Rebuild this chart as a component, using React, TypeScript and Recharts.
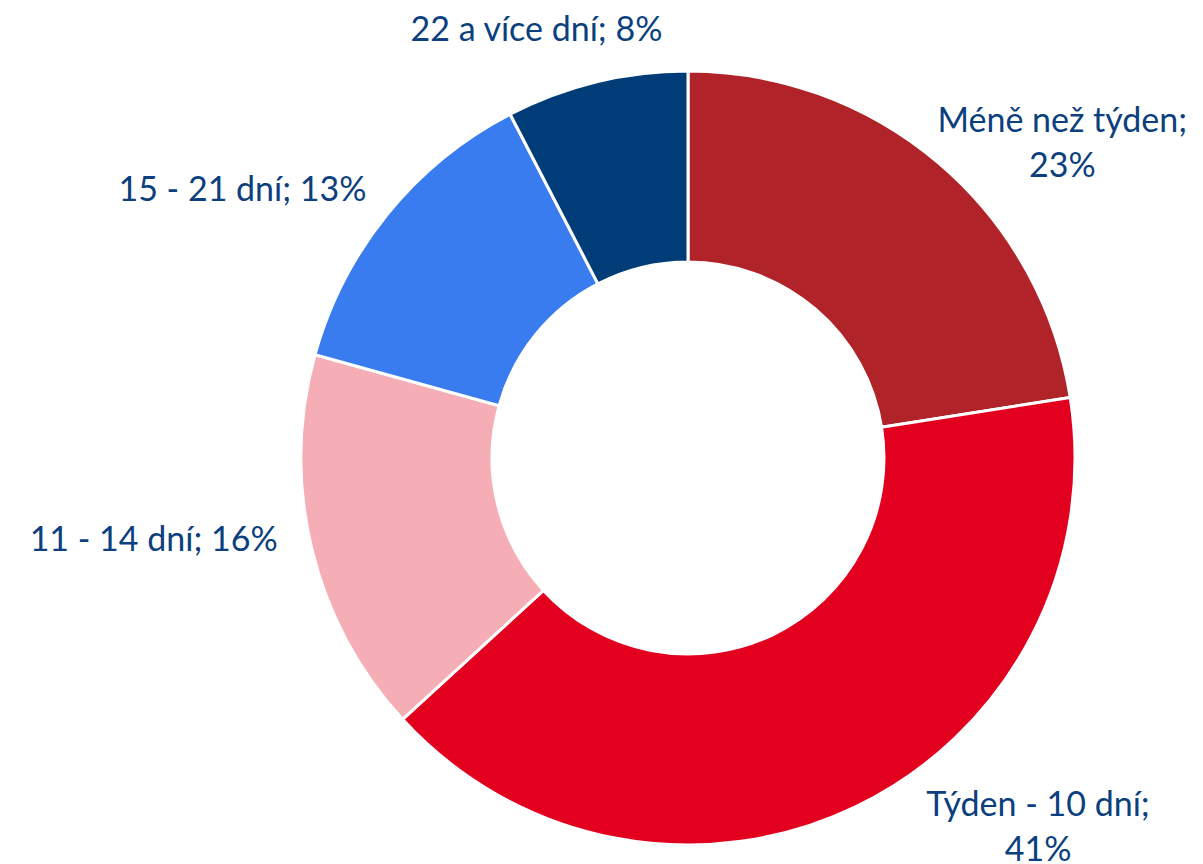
import React from "react";
import { PieChart, Pie, Cell } from "recharts";

const categories = ["Méně než týden", "Týden - 10 dní", "11 - 14 dní", "15 - 21 dní", "22 a více dní"];
const shares = [22.5, 40.7, 16.1, 13.1, 7.6];
const colors = ["#B02328", "#E2001E", "#F5AEB5", "#387CEF", "#003C78"];

// label nudges relative to the outer-edge point at each slice's mid angle
const labelNudge: [number, number][] = [
  [123, -32],
  [182, 9],
  [-158, 3],
  [-145, -13],
  [-60, -41],
];

const data = categories.map((name, i) => ({ name, value: shares[i] }));

const RADIAN = Math.PI / 180;
const TEXT_COLOR = "#0C3F7D";
const FONT = "Lato, 'Open Sans', sans-serif";
const FONT_SIZE = 34;
const LINE_GAP = 45;

const renderLabel = (props: any) => {
  const { cx, cy, midAngle, outerRadius, index, value, name } = props;
  const px = cx + outerRadius * Math.cos(-midAngle * RADIAN);
  const py = cy + outerRadius * Math.sin(-midAngle * RADIAN);
  const [dx, dy] = labelNudge[index];
  const x = px + dx;
  const y = py + dy;
  const pct = `${Math.round(value)}%`;
  const wrap = String(name).length > 13;
  return (
    <text
      x={x}
      y={y}
      fill={TEXT_COLOR}
      fontFamily={FONT}
      fontSize={FONT_SIZE}
      textAnchor="middle"
    >
      {wrap ? (
        <>
          <tspan x={x} y={y}>{`${name};`}</tspan>
          <tspan x={x} y={y + LINE_GAP}>{pct}</tspan>
        </>
      ) : (
        <tspan x={x} y={y}>{`${name}; ${pct}`}</tspan>
      )}
    </text>
  );
};

export default function App() {
  return (
    <div style={{ position: "absolute", left: 0, top: 0, width: 1203, height: 864, background: "#fff" }}>
      <PieChart width={1203} height={864} margin={{ top: 0, right: 0, bottom: 0, left: 0 }}>
        <Pie
          data={data}
          dataKey="value"
          nameKey="name"
          cx={688}
          cy={458}
          outerRadius={387}
          innerRadius={196}
          startAngle={90}
          endAngle={-270}
          stroke="#FFFFFF"
          strokeWidth={3}
          label={renderLabel}
          labelLine={false}
          isAnimationActive={false}
        >
          {data.map((d, i) => (
            <Cell key={d.name} fill={colors[i]} />
          ))}
        </Pie>
      </PieChart>
    </div>
  );
}
